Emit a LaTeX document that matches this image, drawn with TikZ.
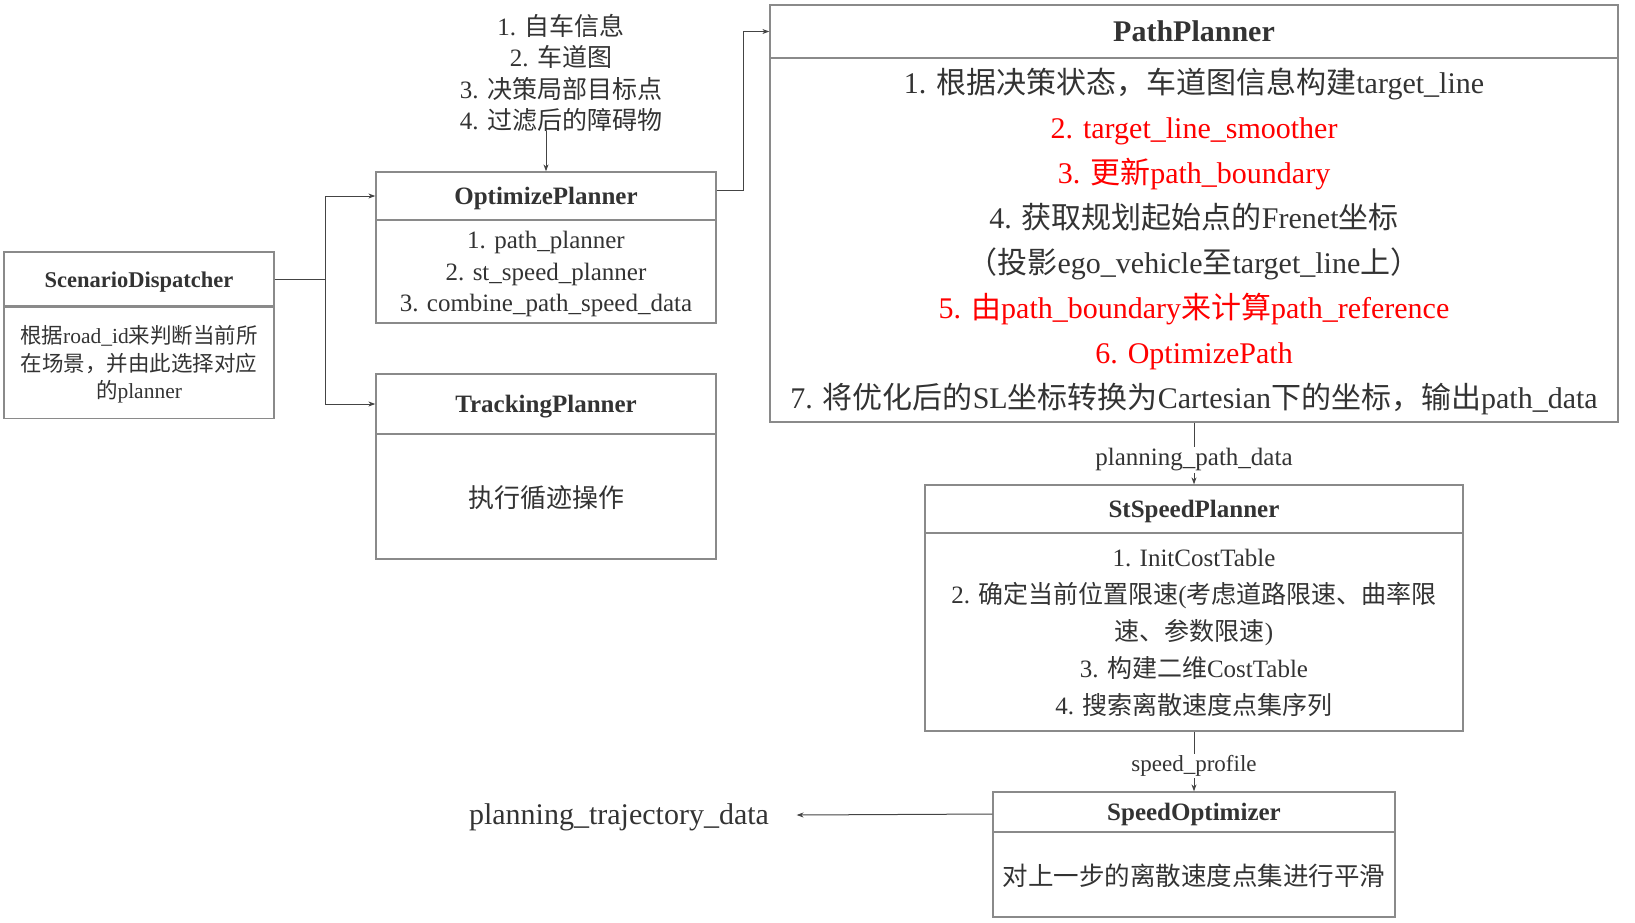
\documentclass[tikz,border=0pt]{standalone}
\usepackage{fontspec}
\setmainfont{Liberation Serif}
\newfontfamily\cjk{Noto Sans CJK SC}
\usepackage{tikz}
\usetikzlibrary{arrows.meta, positioning, calc}
\usepackage{xcolor}
\definecolor{box}{HTML}{8A8A8A}
\definecolor{edge}{HTML}{444444}
\definecolor{ink}{HTML}{333333}
\definecolor{hot}{HTML}{FF0000}
\newcommand{\zh}[1]{{\cjk #1}}
\newcommand{\fs}[2]{\fontsize{#1}{#2}\selectfont}
\newcommand{\hot}[1]{\textcolor{hot}{#1}}
\tikzset{
  hd/.style={draw=box, line width=1.3pt, inner sep=0pt, text depth=0pt, text=ink, font=\fs{25}{30}\bfseries},
  bd/.style={draw=box, line width=1.3pt, inner sep=0pt, text depth=0pt, text=ink, align=center},
  a/.style={-{Stealth[length=7pt, width=5pt]}, draw=edge, line width=1pt},
  lbl/.style={pos=0.6, fill=white, inner sep=1.5pt, text=ink},
}

\begin{document}
\begin{tikzpicture}[x=1pt, y=-1pt]
\useasboundingbox (0,0) rectangle (1635,922);

% ---- dispatcher (left) ----
\node[hd, minimum width=270, minimum height=55, font=\fs{22.5}{27}\bfseries] (sdh) at (139, 279.5) {ScenarioDispatcher};
\node[bd, minimum width=270, minimum height=113, font=\fs{21.5}{27.5}] (sdb) at (139, 362)
  {\zh{根据}road\_id\zh{来判断当前所}\\\zh{在场景，并由此选择对应}\\\zh{的}planner};

% ---- planners (middle) ----
\node[bd, draw=none, font=\fs{25}{31.5}] (inp) at (561, 72) {1. \zh{自车信息}\\2. \zh{车道图}\\3. \zh{决策局部目标点}\\4. \zh{过滤后的障碍物}};

\node[hd, minimum width=340, minimum height=48] (opth) at (546, 196) {OptimizePlanner};
\node[bd, minimum width=340, minimum height=103, font=\fs{25}{31.5}] (optb) at (546, 271.5)
  {1. path\_planner\\2. st\_speed\_planner\\3. combine\_path\_speed\_data};

\node[hd, minimum width=340, minimum height=60] (trkh) at (546, 404) {TrackingPlanner};
\node[bd, minimum width=340, minimum height=125, font=\fs{26}{30}] (trkb) at (546, 496.5) {\zh{执行循迹操作}};

% ---- path planner (right) ----
\node[hd, minimum width=848, minimum height=53, font=\fs{30}{36}\bfseries] (pph) at (1194, 31.5) {PathPlanner};
\node[bd, minimum width=848, minimum height=364, font=\fs{30}{45}] (ppb) at (1194, 240) {};
\node[bd, draw=none, font=\fs{30}{45}] (ppt) at (1194, 238)
  {1. \zh{根据决策状态，车道图信息构建}target\_line\\
   \hot{2. target\_line\_smoother}\\
   \hot{3. \zh{更新}path\_boundary}\\
   4. \zh{获取规划起始点的}Frenet\zh{坐标}\\
   \zh{（投影}ego\_vehicle\zh{至}target\_line\zh{上）}\\
   \hot{5. \zh{由}path\_boundary\zh{来计算}path\_reference}\\
   \hot{6. OptimizePath}\\
   7. \zh{将优化后的}SL\zh{坐标转换为}Cartesian\zh{下的坐标，输出}path\_data};

% ---- speed planning (right, lower) ----
\node[hd, minimum width=538, minimum height=48] (ssph) at (1194, 509) {StSpeedPlanner};
\node[bd, minimum width=538, minimum height=198, font=\fs{25}{37}] (sspb) at (1194, 632)
  {1. InitCostTable\\
   2. \zh{确定当前位置限速}(\zh{考虑道路限速、曲率限}\\
   \zh{速、参数限速})\\
   3. \zh{构建二维}CostTable\\
   4. \zh{搜索离散速度点集序列}};

\node[hd, minimum width=402, minimum height=40] (soh) at (1194, 812) {SpeedOptimizer};
\node[bd, minimum width=402, minimum height=85, font=\fs{25.5}{30}] (sob) at (1194, 874.5) {\zh{对上一步的离散速度点集进行平滑}};

\node[bd, draw=none, font=\fs{30}{36}] (out) at (619, 814) {planning\_trajectory\_data};

% ---- edges ----
\draw[a] (sdh.east) -- ++(51,0) |- (opth.west);
\draw[a] (sdh.east) -- ++(51,0) |- (trkh.west);
\draw[a] (inp.south -| opth.north) -- (opth.north);
\draw[a] ([yshift=6pt]opth.east) -- ++(27,0) |- (pph.west);
\draw[a] (ppb.south) -- node[lbl, font=\fs{25}{30}] {planning\_path\_data} (ssph.north);
\draw[a] (sspb.south) -- node[lbl, pos=0.58, font=\fs{23}{28}] {speed\_profile} (soh.north);
\draw[a] ([yshift=-2pt]soh.west) -- ([xshift=27pt, yshift=-1pt]out.east);
\end{tikzpicture}
\end{document}
